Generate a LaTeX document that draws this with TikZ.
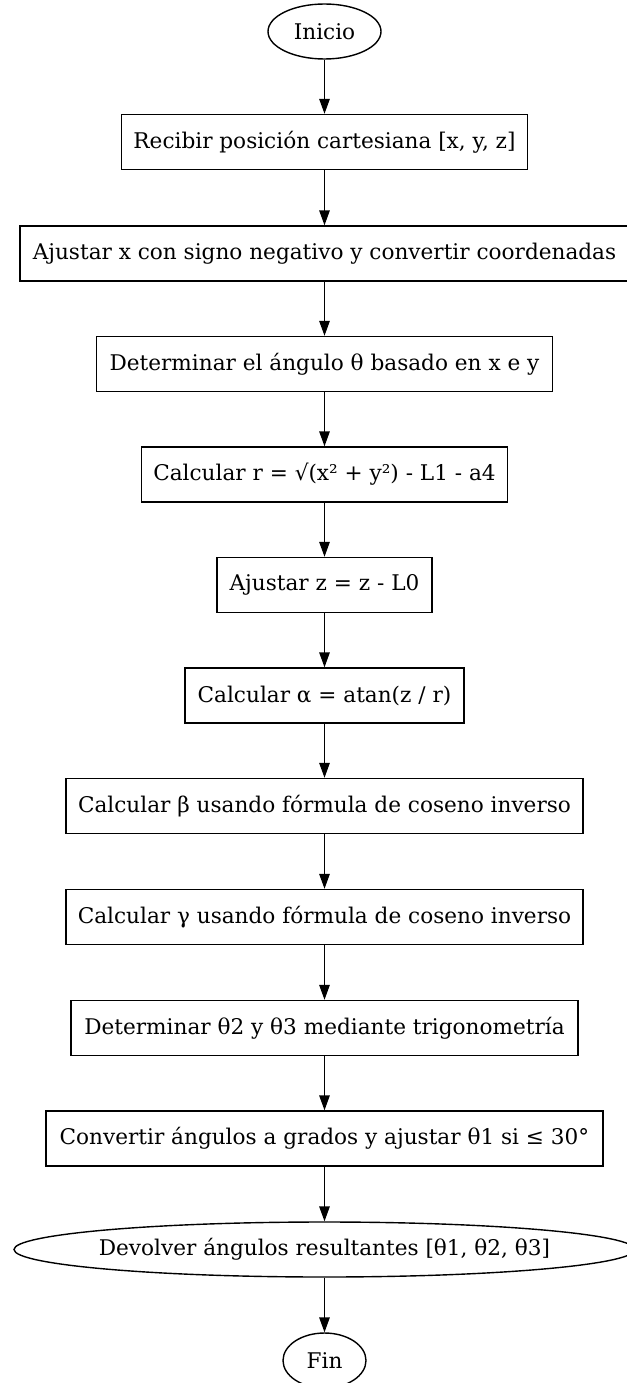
\documentclass[tikz,border=0pt]{standalone}
\usepackage{fontspec}
\setmainfont{DejaVu Serif}
\usetikzlibrary{arrows.meta,shapes.geometric}
\begin{document}
\begin{tikzpicture}[x=1pt,y=-1pt,
  lbl/.style={font=\fontsize{21.6}{25}\selectfont},
  box/.style={lbl, draw, line width=1.4pt, rectangle, minimum height=55pt, inner sep=0pt},
  term/.style={lbl, draw, line width=1.4pt, ellipse, inner sep=0pt, minimum height=55pt},
  arr/.style={line width=1.4pt, -{Triangle[length=15pt,width=10.5pt]}}]
\useasboundingbox (0,0) rectangle (626,1383);
\node[term, minimum width=113pt] (inicio) at (324.5,31.5) {\makebox[0pt]{Inicio}};
\node[box, minimum width=406pt] (b1) at (324.5,142) {Recibir posición cartesiana [x, y, z]};
\node[box, minimum width=609pt] (b2) at (324.5,253.5) {Ajustar x con signo negativo y convertir coordenadas};
\node[box, minimum width=456pt] (b3) at (324.5,364) {Determinar el ángulo θ basado en x e y};
\node[box, minimum width=366pt] (b4) at (324.5,474.5) {Calcular r = √(x² + y²) - L1 - a4};
\node[box, minimum width=215pt] (b5) at (324.5,585) {Ajustar z = z - L0};
\node[box, minimum width=279pt] (b6) at (324.5,695.5) {Calcular α = atan(z / r)};
\node[box, minimum width=517pt] (b7) at (324.5,806) {Calcular β usando fórmula de coseno inverso};
\node[box, minimum width=517pt] (b8) at (324.5,917) {Calcular γ usando fórmula de coseno inverso};
\node[box, minimum width=507pt] (b9) at (324.5,1028) {Determinar θ2 y θ3 mediante trigonometría};
\node[box, minimum width=557pt] (b10) at (324.5,1138.5) {Convertir ángulos a grados y ajustar θ1 si ≤ 30°};
\node[term, minimum width=621pt] (dev) at (324.5,1249.5) {\makebox[0pt]{Devolver ángulos resultantes [θ1, θ2, θ3]}};
\node[term, minimum width=83pt] (fin) at (324.5,1360.5) {\makebox[0pt]{Fin}};
\draw[arr] (inicio.south) -- (b1.north);
\draw[arr] (b1.south) -- (b2.north);
\draw[arr] (b2.south) -- (b3.north);
\draw[arr] (b3.south) -- (b4.north);
\draw[arr] (b4.south) -- (b5.north);
\draw[arr] (b5.south) -- (b6.north);
\draw[arr] (b6.south) -- (b7.north);
\draw[arr] (b7.south) -- (b8.north);
\draw[arr] (b8.south) -- (b9.north);
\draw[arr] (b9.south) -- (b10.north);
\draw[arr] (b10.south) -- (dev.north);
\draw[arr] (dev.south) -- (fin.north);
\end{tikzpicture}
\end{document}
